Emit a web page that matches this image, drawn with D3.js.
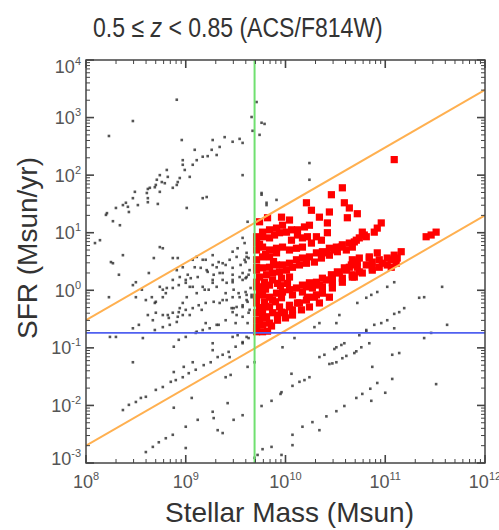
<!DOCTYPE html>
<html>
<head>
<meta charset="utf-8">
<script src="https://cdn.jsdelivr.net/npm/d3@7"></script>
<style>
  html, body { margin: 0; padding: 0; background: #fff; }
  svg { display: block; }
</style>
</head>
<body>
<svg id="chart" width="499" height="530"></svg>
<script>
// Star-forming selection, 0.5 <= z < 0.85 (ACS/F814W).
// Points are [log10 stellar mass (Msun), log10 SFR (Msun/yr)].

const xTickExps = [8, 9, 10, 11, 12];
const yTickExps = [-3, -2, -1, 0, 1, 2, 3, 4];

// Selection cuts
const massCutLog = 9.69;      // ~5e9 Msun
const sfrCutLog = -0.74;      // ~0.18 Msun/yr
const ssfrUpperLog = -8.52;   // upper sSFR boundary (yr^-1)
const ssfrLowerLog = -10.7;   // lower sSFR boundary (yr^-1)

// Selected star-forming galaxies
const selectedGalaxies = [
  [10.57,1.78],[10.46,1.66],[10.21,1.52],[10.26,1.39],[10.44,1.36],[10.59,1.52],[10.64,1.43],
  [10.72,1.33],[10.62,1.26],[10.34,1.27],[10.42,1.17],[10.42,1.00],[9.96,1.27],[10.04,1.22],
  [9.97,1.13],[10.24,1.13],[10.19,1.10],[10.12,1.05],[10.06,1.05],[9.91,1.08],[9.84,1.05],
  [9.77,1.01],[9.74,1.19],[9.82,1.26],[10.96,1.17],[10.92,1.08],[10.89,1.01],[10.77,1.01],
  [10.81,0.93],[10.74,0.91],[11.09,2.27],[11.46,0.96],[11.51,1.01],[11.41,0.93],
  [9.71,0.93],[9.71,0.82],[9.77,0.93],[9.84,0.91],[9.89,0.96],[9.94,1.00],[10.01,1.01],
  [10.06,0.87],[10.12,0.96],[10.17,0.91],[10.22,0.93],[10.31,0.93],[10.36,0.87],[10.26,0.82],
  [10.17,0.75],[10.11,0.73],[10.04,0.70],[9.97,0.75],[9.91,0.73],[9.84,0.70],[9.77,0.75],
  [9.71,0.70],[9.77,0.58],[9.84,0.58],[9.71,0.53],[9.91,0.65],
  [9.71,0.40],[9.71,0.35],[9.77,0.39],[9.84,0.40],[9.91,0.44],[9.97,0.44],[10.04,0.47],
  [10.11,0.53],[10.17,0.56],[10.24,0.58],[10.31,0.65],[10.37,0.67],[10.44,0.73],[10.51,0.75],
  [10.57,0.79],[10.64,0.82],[10.71,0.87],[9.74,0.23],[9.81,0.27],[9.87,0.30],[9.94,0.32],
  [10.01,0.35],[10.07,0.40],[10.14,0.44],[10.21,0.47],[10.29,0.49],[10.36,0.56],[10.44,0.61],
  [10.52,0.67],[10.61,0.70],[10.67,0.75],[9.71,0.14],[9.79,0.14],[9.87,0.18],[9.96,0.21],
  [10.04,0.23],[9.71,0.06],[9.77,0.06],[9.84,0.09],[10.56,0.75],[10.49,0.70],[10.41,0.65],
  [10.79,0.96],[10.69,0.84],
  [9.71,-0.12],[9.77,-0.08],[9.84,-0.12],[9.91,-0.05],[9.97,-0.03],[10.04,0.01],[10.11,0.04],
  [10.17,0.09],[10.24,0.13],[10.31,0.14],[10.37,0.21],[10.46,0.27],[10.52,0.32],[10.59,0.39],
  [10.66,0.44],[10.72,0.49],[9.71,-0.22],[9.79,-0.20],[9.87,-0.17],[9.96,-0.13],[10.07,-0.08],
  [10.17,-0.03],[10.27,0.04],[10.37,0.06],[10.47,0.13],[10.57,0.21],[10.67,0.27],[10.31,-0.08],
  [9.71,-0.39],[9.77,-0.38],[9.84,-0.29],[9.94,-0.29],[10.04,-0.26],[10.14,-0.22],[10.22,-0.12],
  [10.07,-0.34],
  [11.16,0.67],[11.09,0.61],[11.02,0.56],[10.94,0.53],[10.87,0.49],[10.81,0.44],[10.72,0.40],
  [10.67,0.53],[10.61,0.35],[10.54,0.30],[10.47,0.23],[10.41,0.18],[10.34,0.09],[10.21,0.06],
  [10.64,0.40],[10.74,0.56],[10.84,0.58],[11.11,0.47],[11.06,0.40],[10.94,0.40],[10.87,0.35],
  [10.77,0.30],[10.67,0.23],[10.57,0.14],[10.47,0.04],[10.37,-0.05],[10.29,-0.12],[10.21,-0.17],
  [10.12,-0.22],[10.04,-0.29],[9.96,-0.38],[9.87,-0.39],[9.81,-0.46],[9.74,-0.52],[10.44,-0.12],
  [10.34,-0.22],[10.24,-0.29],[10.16,-0.34],[10.07,-0.43],[11.06,0.53],[10.97,0.47],[10.92,0.65],
  [11.02,0.44],[10.84,0.56],[10.87,0.39],[10.74,0.32],[10.69,0.23],[11.12,0.56],
  [9.71,-0.52],[9.77,-0.48],[9.92,-0.43],[9.99,-0.39],[9.71,-0.64],[9.77,-0.60],[9.84,-0.57],
  [9.71,-0.72],[9.77,-0.72],[9.82,-0.71],
  [9.74,0.80],[9.80,0.62],[9.88,0.50],[9.74,-0.02],[9.80,-0.28],[9.90,-0.20],[9.74,-0.30],
  [9.95,0.08],[9.86,-0.62],[9.92,-0.52],[10.00,-0.48],[9.80,0.02],[9.92,0.12],[10.02,0.12]
];

// All other galaxies in the redshift slice
const otherGalaxies = [
  [8.91,3.31],[8.47,2.94],[8.23,2.68],[9.66,3.01],[9.76,2.91],[9.79,2.89],[9.67,2.77],
  [9.74,2.70],[9.71,3.27],
  [8.96,2.61],[9.09,2.44],[9.27,2.61],[9.39,2.66],[9.47,2.58],[9.54,2.63],[9.57,2.56],
  [9.34,2.49],[9.26,2.44],[9.17,2.32],[9.22,2.33],[9.31,2.35],[9.11,2.26],[8.97,2.26],
  [8.97,2.18],[9.07,2.18],[8.99,2.09],[9.04,1.97],[8.94,1.95],[8.81,2.09],[8.74,2.00],
  [8.82,1.97],[8.71,1.92],[8.76,1.88],[8.79,1.86],[8.69,1.79],[8.64,1.78],[8.74,1.71],
  [8.61,1.69],[8.62,1.60],[8.49,1.71],[8.47,1.60],[8.52,1.48],[8.42,1.45],[8.37,1.48],
  [8.30,1.43],[8.43,1.36],[8.21,1.34],[8.27,1.20],[8.34,1.13],[8.72,1.50],[8.91,1.83],
  [9.01,1.43],[9.21,1.62],[9.57,2.00],[9.76,1.66],[9.81,1.48],[8.14,0.87],[8.09,0.82],
  [9.57,0.91],[9.59,0.82],[8.74,0.75],
  [8.62,1.76],[8.70,1.83],[8.87,1.78],[8.92,1.88],[8.40,1.52],[8.62,1.53],[8.20,1.31],
  [9.17,1.60],[9.62,1.19],[8.77,0.73],[8.37,0.61],[8.25,0.49],[8.68,0.56],[8.87,0.56],
  [8.92,0.56],[8.97,0.40],[9.07,0.53],
  [9.47,0.67],[9.52,0.73],[9.63,0.56],[9.20,0.53],[9.27,0.44],[9.33,0.49],[9.40,0.44],
  [9.47,0.39],[9.55,0.44],[9.60,0.49],[9.15,0.39],[9.22,0.32],[9.28,0.27],[9.37,0.30],
  [9.47,0.27],[9.57,0.30],[9.12,0.23],[9.05,0.21],[9.00,0.18],[9.27,0.18],[9.37,0.18],
  [9.47,0.14],[9.60,0.21],[9.63,0.27],
  [8.53,-0.60],[8.67,-0.52],[8.77,-0.43],[8.87,-0.39],[8.93,-0.38],[9.00,-0.34],[9.07,-0.31],
  [9.13,-0.26],[9.20,-0.22],[9.28,-0.20],[9.37,-0.17],[9.47,-0.12],[9.53,-0.05],[9.60,-0.03],
  [9.65,0.04],[8.83,-0.48],[8.92,-0.46],[8.97,-0.43],
  [8.77,0.01],[8.87,0.04],[8.93,0.09],[9.00,0.13],[9.07,0.06],[9.17,0.06],[9.23,0.01],
  [9.27,0.13],[9.40,-0.05],[9.48,0.01],
  [8.50,-0.12],[8.60,-0.17],[8.70,-0.20],[8.80,-0.05],[8.23,-0.12],[8.50,0.14],[8.63,0.30],
  [8.33,0.27],[8.70,-0.39],[8.62,-0.43],[8.47,-0.66],[9.33,-0.60],[9.40,-0.52],[9.50,-0.57],
  [9.57,-0.46],[9.63,-0.39],[9.20,-0.57],[9.48,-0.31],[9.57,-0.26],[9.62,-0.20],[9.47,-0.38],
  [8.69,-0.69],[8.77,-0.64],[8.84,-0.60],[8.91,-0.55],[9.04,-0.43],[9.16,-0.34],[9.34,-0.22],
  [9.41,-0.17],[9.54,-0.12],[9.61,-0.08],[9.66,-0.12],[9.11,-0.72],[9.17,-0.69],[9.24,-0.66],
  [9.31,-0.60],[9.51,-0.43],[9.64,-0.34],[9.46,-0.31],[9.51,-0.29],
  [8.27,0.47],[8.47,0.09],[8.56,0.01],[8.66,-0.12],[8.69,-0.22],[8.82,-0.43],[8.94,-0.31],
  [8.97,-0.22],[8.77,-0.12],[8.81,0.04],[8.74,0.06],[8.87,0.18],[8.94,0.23],[9.02,0.27],
  [8.91,0.35],[9.09,0.40],[9.17,0.53],[9.11,0.58],[9.21,0.35],[9.31,0.40],[9.37,0.47],
  [9.44,0.53],[9.51,0.58],[9.61,0.65],[9.27,0.61],[9.34,0.30],[9.41,0.13],[9.47,0.18],
  [9.54,0.23],[9.31,0.06],[9.19,0.01],[9.11,-0.05],[9.01,-0.12],[9.04,0.06],
  [8.70,-1.73],[8.77,-1.68],[8.85,-1.59],[8.90,-1.56],[8.97,-1.51],[9.03,-1.44],[9.10,-1.38],
  [9.18,-1.30],[9.25,-1.25],[9.32,-1.16],[9.37,-1.12],[9.43,-1.07],[9.50,-0.98],[9.57,-0.92],
  [9.63,-0.83],[9.47,-0.81],[9.52,-0.78],[9.00,-0.81],[8.93,-0.86],[9.10,-0.74],
  [8.50,-1.94],[8.55,-1.87],[8.60,-1.85],[8.43,-1.99],[8.37,-2.08],[8.88,-1.42],[8.98,-1.33],
  [9.07,-1.25],[8.88,-2.04],[8.88,-0.98],[8.47,-1.25],[8.30,-0.81],[9.27,-0.92],[9.62,-1.33],
  [9.40,-1.51],[9.45,-1.47],[9.06,-1.87],[9.42,-1.96],[9.27,-2.11],[9.28,-2.22],[9.48,-2.25],
  [9.57,-2.17],[9.32,-2.43],[9.12,-2.25],[9.00,-2.37],[8.87,-2.51],[8.80,-2.57],[8.73,-2.64],
  [8.67,-2.72],[8.60,-2.81],[9.00,-2.74],[8.24,-0.81],[8.57,-0.83],[9.37,-2.48],[9.44,-1.16],
  [9.27,-1.04],
  [10.74,-0.78],[10.81,-0.72],[11.46,-0.74],[11.39,-0.83],[10.09,-0.83],[9.97,-0.99],
  [10.59,-0.92],[10.56,-0.95],[10.51,-0.99],[10.49,-1.02],[10.84,-0.92],[10.76,-0.99],
  [10.71,-1.06],[10.69,-1.09],[10.34,-1.16],[10.39,-1.12],[10.61,-1.14],[10.57,-1.18],
  [10.51,-1.25],[10.47,-1.27],[10.44,-1.28],[11.07,-1.12],[11.14,-1.09],[10.87,-1.33],
  [10.06,-1.45],[10.24,-1.51],[10.19,-1.56],[10.14,-1.59],[10.07,-1.66],[10.92,-1.61],
  [11.07,-1.54],[11.51,-1.63],[9.96,-1.77],[9.95,-1.80],[9.86,-1.92],[9.76,-2.01],
  [10.71,-1.87],[10.77,-1.80],[10.85,-1.71],[11.00,-1.78],[10.86,-1.92],[10.59,-2.01],
  [10.51,-2.10],[10.41,-2.19],[10.27,-2.29],[10.17,-2.37],[10.34,-2.43],[10.07,-2.51],
  [10.07,-2.69],[9.86,-2.72],[9.77,-2.76],[9.72,-2.86],[9.96,-2.86],[9.69,-2.91],[9.69,-1.25],
  [11.57,0.06],[11.09,0.14],[11.02,0.06],[10.92,-0.03],[10.86,-0.08],[10.81,-0.13],
  [10.72,-0.22],[11.34,-0.13],[11.39,-0.12],[11.19,-0.31],[11.14,-0.38],[11.09,-0.41],
  [11.02,-0.52],[10.96,-0.57],[10.89,-0.60],[10.81,-0.69],[11.62,-0.60],[11.09,-0.66],
  [10.54,-0.43],[10.51,-0.57],[10.34,-0.57],[10.29,-0.64],
  [10.24,2.21],[10.24,1.92],[9.76,1.69],[9.91,1.57],[9.81,1.52],
  [9.61,0.58],[9.59,0.53],[9.64,0.35],[9.61,0.23],[9.57,0.18],[9.66,-0.08],[9.61,-0.17],
  [9.57,-0.29],[9.62,-0.57],[9.61,-0.81],[9.57,-0.90]
];

const svg = d3.select("#chart");
const plot = { left: 86, right: 485, top: 60, bottom: 463 };

const x = d3.scaleLog().domain([1e8, 1e12]).range([plot.left, plot.right]);
const y = d3.scaleLog().domain([1e-3, 1e4]).range([plot.bottom, plot.top]);
const p10 = v => Math.pow(10, v);

svg.append("defs").append("clipPath").attr("id", "plot-clip")
  .append("rect")
  .attr("x", plot.left).attr("y", plot.top)
  .attr("width", plot.right - plot.left).attr("height", plot.bottom - plot.top);

// Title, squeezed horizontally to a condensed look; the redshift symbol is italic
const titleWidth = 290;
const title = svg.append("text")
  .attr("font-family", "'Liberation Sans', Arial, sans-serif")
  .attr("font-size", 28).attr("fill", "#333");
title.append("tspan").text("0.5 ≤ ");
title.append("tspan").attr("font-style", "italic").text("z");
title.append("tspan").text(" < 0.85 (ACS/F814W)");
const naturalWidth = title.node().getComputedTextLength() || titleWidth;
title.attr("transform", `translate(93,37) scale(${titleWidth / naturalWidth},1)`);

const marks = svg.append("g").attr("clip-path", "url(#plot-clip)");

// Other galaxies: small dark dots
const ds = 2.6;
marks.append("g").selectAll("rect").data(otherGalaxies).join("rect")
  .attr("x", d => x(p10(d[0])) - ds / 2)
  .attr("y", d => y(p10(d[1])) - ds / 2)
  .attr("width", ds).attr("height", ds)
  .attr("fill", "#2a2a2a").attr("opacity", 0.8);

// Selected galaxies: red squares
const rs = 7.2;
marks.append("g").selectAll("rect").data(selectedGalaxies).join("rect")
  .attr("x", d => x(p10(d[0])) - rs / 2)
  .attr("y", d => y(p10(d[1])) - rs / 2)
  .attr("width", rs).attr("height", rs)
  .attr("fill", "#ff0000");

// sSFR boundaries
const massRange = [8, 12];
const line = d3.line().x(d => x(p10(d[0]))).y(d => y(p10(d[1])));
[ssfrUpperLog, ssfrLowerLog].forEach(s => {
  marks.append("path")
    .attr("d", line(massRange.map(m => [m, m + s])))
    .attr("fill", "none").attr("stroke", "#ffb050").attr("stroke-width", 2);
});

// SFR cut
marks.append("line")
  .attr("x1", plot.left).attr("x2", plot.right)
  .attr("y1", y(p10(sfrCutLog))).attr("y2", y(p10(sfrCutLog)))
  .attr("stroke", "#5060f0").attr("stroke-width", 1.6);

// Mass cut
marks.append("line")
  .attr("x1", x(p10(massCutLog))).attr("x2", x(p10(massCutLog)))
  .attr("y1", plot.top).attr("y2", plot.bottom)
  .attr("stroke", "#70e070").attr("stroke-width", 2);

// Frame and log ticks on all four sides, pointing inward
const axisColor = "#444";
const frame = svg.append("g");
frame.append("rect")
  .attr("x", plot.left).attr("y", plot.top)
  .attr("width", plot.right - plot.left).attr("height", plot.bottom - plot.top)
  .attr("fill", "none").attr("stroke", axisColor).attr("stroke-width", 1.5);

const isMajor = v => Math.abs(Math.log10(v) - Math.round(Math.log10(v))) < 1e-6;
const xt = x.ticks(40).filter(v => v >= 1e8 && v <= 1e12);
const yt = y.ticks(60).filter(v => v >= 1e-3 && v <= 1e4);

xt.forEach(v => {
  const px = x(v), len = isMajor(v) ? 8 : 4, w = isMajor(v) ? 1.6 : 1;
  frame.append("line").attr("x1", px).attr("x2", px)
    .attr("y1", plot.bottom).attr("y2", plot.bottom - len)
    .attr("stroke", axisColor).attr("stroke-width", w);
  frame.append("line").attr("x1", px).attr("x2", px)
    .attr("y1", plot.top).attr("y2", plot.top + len)
    .attr("stroke", axisColor).attr("stroke-width", w);
});
yt.forEach(v => {
  const py = y(v), len = isMajor(v) ? 8 : 4, w = isMajor(v) ? 1.6 : 1;
  frame.append("line").attr("y1", py).attr("y2", py)
    .attr("x1", plot.left).attr("x2", plot.left + len)
    .attr("stroke", axisColor).attr("stroke-width", w);
  frame.append("line").attr("y1", py).attr("y2", py)
    .attr("x1", plot.right).attr("x2", plot.right - len)
    .attr("stroke", axisColor).attr("stroke-width", w);
});

// Tick labels: 10 with superscript exponent
const labelFont = "'Liberation Sans', Arial, sans-serif";
const labelColor = "#555";
xTickExps.forEach(e => {
  const t = svg.append("text")
    .attr("x", x(p10(e))).attr("y", 488)
    .attr("text-anchor", "middle")
    .attr("font-family", labelFont).attr("font-size", 18).attr("fill", labelColor);
  t.append("tspan").text("10");
  t.append("tspan").attr("font-size", 11).attr("dy", -8).text(e);
});
yTickExps.forEach(e => {
  let cy = y(p10(e));
  if (e === 4) cy += 6;
  if (e === -3) cy -= 5;
  const t = svg.append("text")
    .attr("x", 81).attr("y", cy + 6.5)
    .attr("text-anchor", "end")
    .attr("font-family", labelFont).attr("font-size", 18).attr("fill", labelColor);
  t.append("tspan").text("10");
  t.append("tspan").attr("font-size", 11).attr("dy", -8).text(e);
});

// Axis titles
svg.append("text")
  .attr("x", (plot.left + plot.right) / 2 + 4).attr("y", 522)
  .attr("text-anchor", "middle")
  .attr("font-family", labelFont).attr("font-size", 28).attr("fill", "#333")
  .text("Stellar Mass (Msun)");

svg.append("text")
  .attr("transform", "translate(37,248) rotate(-90)")
  .attr("text-anchor", "middle")
  .attr("font-family", labelFont).attr("font-size", 28).attr("fill", "#333")
  .text("SFR (Msun/yr)");
</script>
</body>
</html>
